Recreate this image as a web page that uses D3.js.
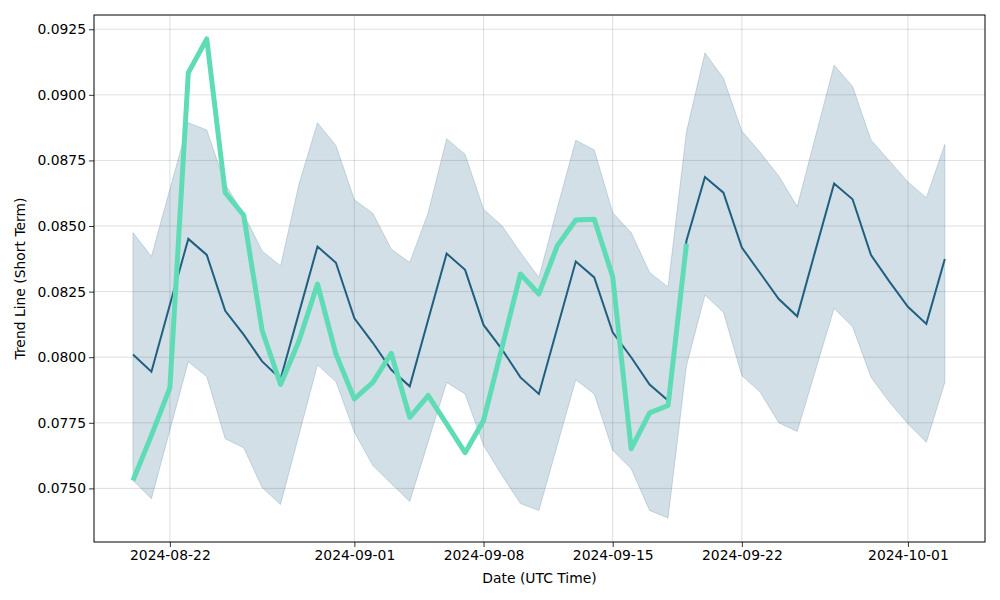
<!DOCTYPE html>
<html><head><meta charset="utf-8">
<script src="https://cdn.jsdelivr.net/npm/d3@7"></script>
<style>body{margin:0;background:#fff}svg text{font-family:"DejaVu Sans",sans-serif}</style>
</head><body><svg id="c" width="1000" height="600"></svg>
<script>
const startDate = "2024-08-20";
const meanValues = [0.0801,0.07945,0.0820,0.08451,0.0839,0.08177,0.08086,0.07984,0.07917,0.0817,
 0.08422,0.0836,0.08148,0.08055,0.07952,0.07889,0.08143,0.08395,0.08333,0.08123,
 0.0803,0.07923,0.0786,0.08112,0.08365,0.08304,0.08095,0.08,0.07896,0.07835,
 0.08445,0.08687,0.08627,0.08418,0.0832,0.08222,0.08156,0.0841,0.08662,0.08602,
 0.08389,0.08288,0.08192,0.08127,0.08374];
const upperValues = [0.08475,0.08384,0.0864,0.08894,0.08866,0.0866,0.08545,0.08405,0.08348,0.0866,
 0.08894,0.08807,0.086,0.08549,0.08412,0.08361,0.08551,0.08833,0.08773,0.08564,
 0.08501,0.08399,0.08304,0.0857,0.08827,0.0879,0.08551,0.08475,0.08323,0.08268,
 0.0886,0.0916,0.09063,0.08862,0.0878,0.08691,0.08574,0.08844,0.09113,0.09033,
 0.08828,0.08748,0.08668,0.08608,0.08811];
const lowerValues = [0.0753,0.07461,0.07722,0.07983,0.07926,0.07689,0.07655,0.07503,0.07439,0.07705,
 0.0797,0.07907,0.07714,0.07587,0.07518,0.0745,0.07678,0.07904,0.0786,0.07664,
 0.07549,0.07442,0.07416,0.07665,0.07914,0.0786,0.07645,0.07575,0.07416,0.07387,
 0.07968,0.08237,0.08171,0.0793,0.07866,0.0775,0.07717,0.07952,0.08186,0.08116,
 0.07924,0.07828,0.07746,0.07676,0.07904];
const actualValues = [0.0753,0.07702,0.07883,0.09084,0.09213,0.08627,0.08541,0.08102,0.07896,0.08063,
 0.08279,0.08012,0.07841,0.07904,0.08015,0.07771,0.07854,0.07746,0.07636,0.07759,
 0.08037,0.08317,0.08241,0.08425,0.08523,0.08526,0.08307,0.07651,0.07788,0.07816,
 0.08433];
const xTickLabels = ["2024-08-22","2024-09-01","2024-09-08","2024-09-15","2024-09-22","2024-10-01"];
const yTickValues = [0.0750,0.0775,0.0800,0.0825,0.0850,0.0875,0.0900,0.0925];

const DAY = 864e5;
const t0 = Date.parse(startDate + "T00:00:00Z");
const dateAt = i => new Date(t0 + i*DAY);
const band = meanValues.map((m,i)=>({d:dateAt(i), m, lo:lowerValues[i], hi:upperValues[i]}));
const act = actualValues.map((v,i)=>({d:dateAt(i), v}));

const L=94, R=985, T=15, B=542;
const n = meanValues.length;
const span = (n-1)*DAY;
const x = d3.scaleUtc().domain([new Date(t0-span*0.048), new Date(t0+span*1.0495)]).range([L,R]);
const allV = upperValues.concat(lowerValues, actualValues, meanValues);
const vmin = d3.min(allV), vmax = d3.max(allV), padY=(vmax-vmin)*0.05;
const y = d3.scaleLinear().domain([vmin-padY, vmax+padY]).range([B,T]);

const svg = d3.select("#c");
const g = svg.append("g");
const FS = 13.9;
g.selectAll(".gx").data(xTickLabels).enter().append("line")
 .attr("x1",d=>x(new Date(d+"T00:00:00Z"))).attr("x2",d=>x(new Date(d+"T00:00:00Z")))
 .attr("y1",T).attr("y2",B).attr("stroke","#b0b0b0").attr("stroke-opacity",0.5).attr("stroke-width",0.8);
g.selectAll(".gy").data(yTickValues).enter().append("line")
 .attr("y1",d=>y(d)).attr("y2",d=>y(d)).attr("x1",L).attr("x2",R)
 .attr("stroke","#b0b0b0").attr("stroke-opacity",0.5).attr("stroke-width",0.8);

const col = "#1f5f80";
g.append("path").datum(band)
 .attr("d", d3.area().x(d=>x(d.d)).y0(d=>y(d.lo)).y1(d=>y(d.hi)))
 .attr("fill",col).attr("fill-opacity",0.2).attr("stroke",col).attr("stroke-opacity",0.2).attr("stroke-width",1);
g.append("path").datum(band)
 .attr("d", d3.line().x(d=>x(d.d)).y(d=>y(d.m)))
 .attr("fill","none").attr("stroke",col).attr("stroke-width",2);
g.append("path").datum(act)
 .attr("d", d3.line().x(d=>x(d.d)).y(d=>y(d.v)))
 .attr("fill","none").attr("stroke","#5fdcb5").attr("stroke-width",5).attr("stroke-linejoin","round");

const xAxis = d3.axisBottom(x).tickValues(xTickLabels.map(s=>new Date(s+"T00:00:00Z")))
 .tickFormat(d3.utcFormat("%Y-%m-%d")).tickSizeOuter(0).tickSize(5).tickPadding(3);
const ax = svg.append("g").attr("transform",`translate(0,${B})`).call(xAxis);
const yAxis = d3.axisLeft(y).tickValues(yTickValues).tickFormat(d3.format(".4f")).tickSizeOuter(0).tickSize(5).tickPadding(3);
const ay = svg.append("g").attr("transform",`translate(${L},0)`).call(yAxis);
[ax,ay].forEach(a=>{a.select(".domain").remove();a.selectAll("text").attr("font-size",FS).attr("fill","#000").attr("font-family","DejaVu Sans");a.selectAll("line").attr("stroke","#000").attr("stroke-width",0.8);});
svg.append("rect").attr("x",L).attr("y",T).attr("width",R-L).attr("height",B-T).attr("fill","none").attr("stroke","#000").attr("stroke-width",1);
svg.append("text").attr("x",(L+R)/2).attr("y",583).attr("text-anchor","middle").attr("font-size",FS).text("Date (UTC Time)");
svg.append("text").attr("transform",`translate(25,${(T+B)/2}) rotate(-90)`).attr("text-anchor","middle").attr("font-size",FS).text("Trend Line (Short Term)");
</script></body></html>
